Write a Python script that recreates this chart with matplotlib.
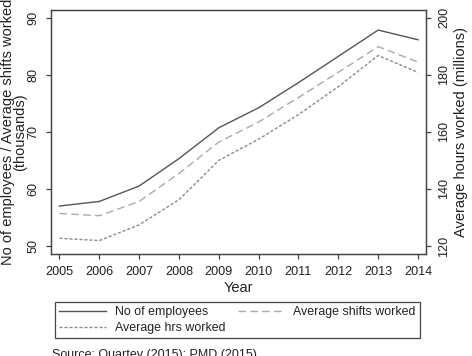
import matplotlib
matplotlib.use('Agg')
import matplotlib.pyplot as plt

plt.rcParams['font.family'] = ['Liberation Sans', 'DejaVu Sans']

years = [2005, 2006, 2007, 2008, 2009, 2010, 2011, 2012, 2013, 2014]
employees = [57.0, 57.8, 60.5, 65.3, 70.7, 74.2, 78.6, 83.2, 87.8, 86.1]
shifts = [55.7, 55.3, 57.8, 62.7, 68.2, 71.7, 76.0, 80.4, 84.9, 82.2]
hours = [122.7, 121.9, 127.4, 136.2, 150.0, 157.4, 166.0, 175.8, 186.7, 180.8]

left_ticks = [50, 60, 70, 80, 90]
right_ticks = [120, 140, 160, 180, 200]

fig = plt.figure(figsize=(4.72, 3.56), dpi=100)
ax = fig.add_axes([0.1074, 0.2865, 0.7951, 0.6868])
ax2 = ax.twinx()

frame = '#444444'
l1, = ax.plot(years, employees, color='#555555', lw=1.0, label='No of employees')
l2, = ax.plot(years, shifts, color='#aaaaaa', lw=1.0, dashes=(5.5, 3),
              label='Average shifts worked')
l3, = ax2.plot(years, hours, color='#8a8a8a', lw=1.0, dashes=(2.2, 1.4),
               label='Average hrs worked')

ax.set_xlim(2004.78, 2014.2)
ax.set_ylim(48.6, 91.4)
ax2.set_ylim(117.2, 202.8)
ax.set_xticks(years)
ax.set_yticks(left_ticks)
ax2.set_yticks(right_ticks)

for a in (ax, ax2):
    for s in a.spines.values():
        s.set_color(frame)
        s.set_linewidth(0.9)
    a.tick_params(length=3.8, width=0.9, color=frame, labelsize=9.1, labelcolor='#222222')
ax.tick_params(axis='x', pad=4.8)
ax.tick_params(axis='y', labelrotation=90, pad=4.3)
ax2.tick_params(axis='y', labelrotation=90, pad=5)
for t in ax.get_yticklabels() + ax2.get_yticklabels():
    t.set_va('center')

ax.set_xlabel('Year', fontsize=10.5, color='#222222', labelpad=2)
ax.set_ylabel('No of employees / Average shifts worked\n(thousands)', fontsize=10.5,
              color='#222222', linespacing=0.85)
ax.yaxis.set_label_coords(-0.063, 0.5)
ax2.set_ylabel('Average hours worked (millions)', fontsize=10.5, color='#222222')
ax2.yaxis.set_label_coords(1.074, 0.5)

leg = fig.legend([l1, l3, l2], [l1.get_label(), l3.get_label(), l2.get_label()],
                 ncol=2, loc='upper left', bbox_to_anchor=(55 / 472, 1 - 302 / 356),
                 fontsize=8.9, handlelength=3.8, handletextpad=0.7, columnspacing=1.0,
                 labelspacing=0.3, borderpad=0.35, borderaxespad=0, fancybox=False,
                 framealpha=1)
leg.get_frame().set_edgecolor(frame)
leg.get_frame().set_linewidth(0.9)
for t in leg.get_texts():
    t.set_color('#222222')

fig.text(52 / 472, 1 - 349 / 356, 'Source: Quartey (2015); PMD (2015)', fontsize=9,
         va='top', ha='left', color='#222222')

fig.savefig('out.png', dpi=100)
